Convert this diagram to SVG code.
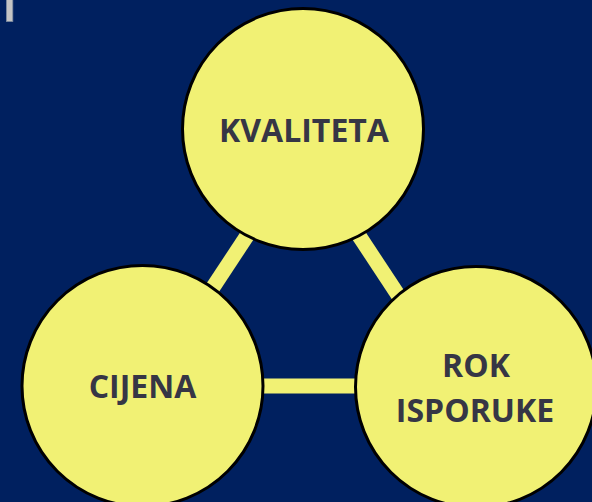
<svg xmlns="http://www.w3.org/2000/svg" width="592" height="502" viewBox="0 0 592 502">
  <defs>
    <style>
      .bg { fill: #00205F; }
      .link { stroke: #F1F174; stroke-width: 15; stroke-linecap: butt; fill: none; }
      .node { fill: #F1F174; stroke: #000000; stroke-width: 3; }
      .label { font-family: "Open Sans", "Liberation Sans", sans-serif; font-weight: 700; font-size: 32px; fill: #363645; text-anchor: middle; }
      .tab { fill: #C4C4C4; stroke: #7D8AA0; stroke-width: 0.8; }
    </style>
  </defs>

  <rect class="bg" x="0" y="0" width="592" height="502"/>
  <rect class="tab" x="6.4" y="-2" width="6.4" height="23.5"/>

  <!-- connecting bars between the three circles -->
  <g id="connectors">
    <line class="link" x1="270.6" y1="200" x2="184.8" y2="330"/>
    <line class="link" x1="335.4" y1="200" x2="421.2" y2="330"/>
    <line class="link" x1="240" y1="386" x2="380" y2="386"/>
  </g>

  <g id="kvaliteta">
    <circle class="node" cx="303" cy="129" r="120.5"/>
    <text class="label" x="304" y="142">KVALITETA</text>
  </g>

  <g id="cijena">
    <circle class="node" cx="142.5" cy="386" r="120.5"/>
    <text class="label" x="142.5" y="398">CIJENA</text>
  </g>

  <g id="rok-isporuke">
    <circle class="node" cx="476" cy="387" r="120.5"/>
    <text class="label" x="476" y="377">ROK</text>
    <text class="label" x="475" y="422">ISPORUKE</text>
  </g>
</svg>
